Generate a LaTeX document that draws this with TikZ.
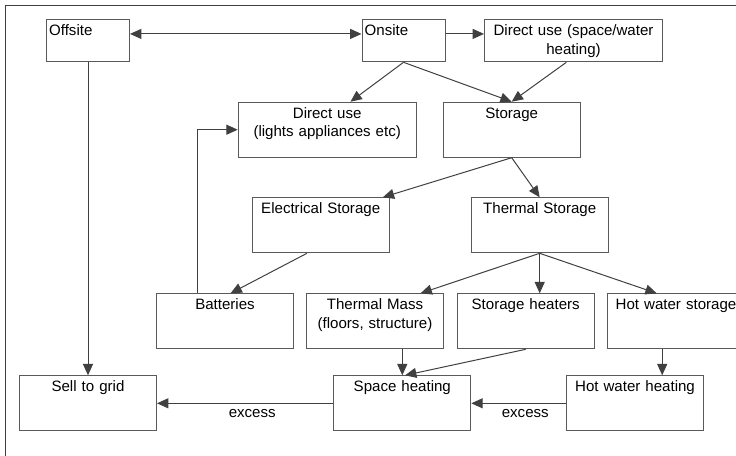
\documentclass[tikz,border=0pt]{standalone}
\usepackage{fontspec}
\setmainfont{Liberation Sans}
\usetikzlibrary{arrows.meta,calc}
\definecolor{boxgray}{HTML}{5A5A5A}
\definecolor{linegray}{HTML}{404040}
\tikzset{
    box/.style={draw=boxgray, line width=.75pt, anchor=north west, inner xsep=2pt, inner ysep=0pt,
        align=center, text width=98.75pt, text height=12pt, text depth=29.25pt,
        font=\fontsize{11.3}{13.7}\selectfont},
    low/.style={text depth=19.5pt},
    wide/.style={text width=129.5pt},
    small/.style={text width=58.25pt, align=left},
    tip/.tip={Triangle[length=8.5pt,width=7.5pt]},
    flow/.style={draw=linegray, line width=.75pt, -tip},
    lbl/.style={font=\fontsize{11.3}{13.7}\selectfont, inner sep=1pt}
}
\begin{document}
\begin{tikzpicture}[x=.75pt,y=-.75pt]
                \useasboundingbox (0,0) rectangle (736,455);
                \clip (0,0) rectangle (736,455);
                \draw[linegray, line width=1pt] (5.5,5.7) rectangle (760,480);
                % top row
                \node[box,low,small] (off) at (46,19.3) {Offsite};
                \node[box,low,small] (on) at (361.5,19.3) {Onsite};
                \node[box,low,wide] (duse) at (484,19.3) {Direct use (space/water\\heating)};
                % second row
                \node[box,wide] (dlight) at (237.7,101.7) {Direct use\\(lights appliances etc)};
                \node[box] (stor) at (442.7,101.7) {Storage};
                % third row
                \node[box] (elec) at (251.7,197.3) {Electrical Storage};
                \node[box] (therm) at (470.7,197.3) {Thermal Storage};
                % fourth row
                \node[box] (batt) at (156,293.3) {Batteries};
                \node[box] (tmass) at (306,293.3) {Thermal Mass\\(floors, structure)};
                \node[box] (sheat) at (456.7,293.3) {Storage heaters};
                \node[box] (hws) at (607,293.3) {Hot water storage};
                % bottom row
                \node[box] (sell) at (19,375.3) {Sell to grid};
                \node[box] (sp) at (333.3,375.3) {Space heating};
                \node[box] (hwh) at (566,375.3) {Hot water heating};
                % connectors
                \coordinate (hwsout) at ($(hws.south west)!.4!(hws.south east)$);
                \coordinate (battout) at ($(batt.north west)!.3!(batt.north east)$);
                \draw[flow,tip-tip]
                    ($(off.north east)!.34!(off.south east)$) -- ($(on.north west)!.34!(on.south west)$);
                \draw[flow] ($(on.north east)!.34!(on.south east)$) -- ($(duse.north west)!.34!(duse.south west)$);
                \draw[flow] (on.south) -- ($(dlight.north west)!.63!(dlight.north east)$);
                \draw[flow] (on.south) -- (stor.north);
                \draw[flow] ($(duse.south west)!.46!(duse.south east)$) -- (stor.north);
                \draw[flow] (stor.south) -- ($(elec.north west)!.95!(elec.north east)$);
                \draw[flow] (stor.south) -- (therm.north);
                \draw[flow] ($(elec.south west)!.4!(elec.south east)$) -- ($(batt.north west)!.54!(batt.north east)$);
                \draw[flow] (battout) |- (dlight.west);
                \draw[flow] (therm.south) -- ($(tmass.north west)!.83!(tmass.north east)$);
                \draw[flow] (therm.south) -- (therm.south |- sheat.north);
                \draw[flow] (therm.south) -- ($(hws.north west)!.36!(hws.north east)$);
                \draw[flow] (sp.north |- tmass.south) -- (sp.north);
                \draw[flow] (sheat.south) -- ($(sp.north west)!.52!(sp.north east)$);
                \draw[flow] (hwsout) -- (hwsout |- hwh.north);
                \draw[flow] (off.south) -- (off.south |- sell.north);
                \draw[flow] (sp.west) -- node[lbl,below=3pt,pos=.46] {excess} (sell.east);
                \draw[flow] (hwh.west) -- node[lbl,below=3pt,pos=.43] {excess} (sp.east);
            \end{tikzpicture}
\end{document}
